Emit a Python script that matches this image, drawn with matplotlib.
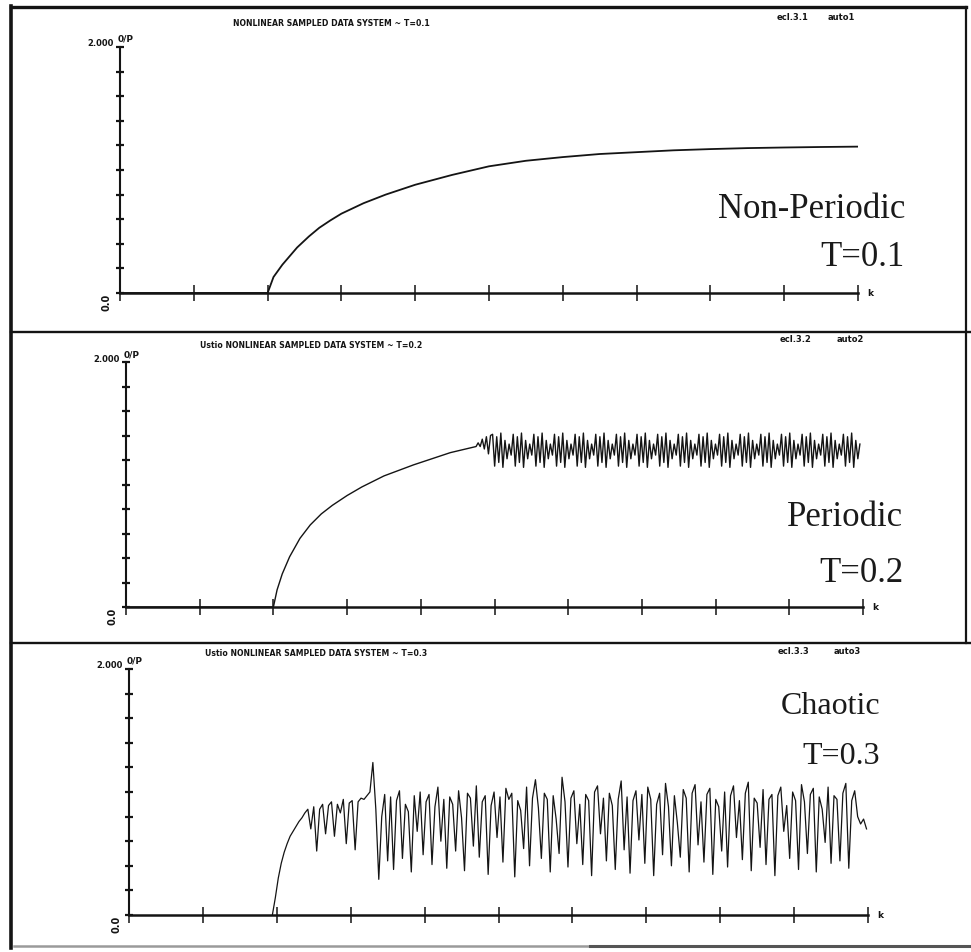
import matplotlib
matplotlib.use("Agg")
import matplotlib.pyplot as plt
import numpy as np
from matplotlib import font_manager

W, H = 971, 952

# =========================
# Response data: output O/P against sample index k
# =========================

K_TICKS = [0, 10, 20, 30, 40, 50, 60, 70, 80, 90, 100]
Y_TICKS = [0.0, 0.2, 0.4, 0.6, 0.8, 1.0, 1.2, 1.4, 1.6, 1.8, 2.0]

# T = 0.1 : smooth approach to steady state
T1_K = [0, 20, 20.8, 22, 23, 24, 25.6, 27, 28.5, 30, 33, 36, 40, 45, 50,
        55, 60, 65, 70, 75, 80, 85, 90, 95, 100]
T1_Y = [0, 0, 0.13, 0.23, 0.30, 0.37, 0.46, 0.53, 0.59, 0.645, 0.73, 0.80,
        0.88, 0.96, 1.03, 1.075, 1.105, 1.13, 1.145, 1.16, 1.17, 1.178,
        1.183, 1.187, 1.19]

# T = 0.2 : rise, then a sustained limit cycle
T2_RISE_K = [0, 20, 20.5, 21.2, 22.2, 23.6, 25, 26.5, 28, 30, 32, 35, 39,
             44, 47.5]
T2_RISE_Y = [0, 0, 0.14, 0.27, 0.41, 0.56, 0.67, 0.76, 0.83, 0.91, 0.98,
             1.07, 1.16, 1.26, 1.31]
T2_ONSET_Y = [1.34, 1.31, 1.37, 1.29, 1.39, 1.25, 1.40]
T2_CYCLE_Y = [1.41, 1.15, 1.39, 1.18, 1.42, 1.14, 1.36, 1.21, 1.33, 1.24]
T2_STEP = 0.28
T2_END = 99.7

# T = 0.3 : chaotic response, one sample every 0.4 in k from k = 19.4
T3_START = 19.4
T3_STEP = 0.4
T3_Y = [
    0.00, 0.14, 0.30, 0.42, 0.51, 0.58, 0.64, 0.68, 0.72, 0.76,
    0.79, 0.83, 0.86, 0.70, 0.88, 0.52, 0.86, 0.90, 0.66, 0.89,
    0.92, 0.64, 0.90, 0.83, 0.94, 0.58, 0.91, 0.93, 0.53, 0.92,
    0.95, 0.94, 0.97, 1.00, 1.24, 0.86, 0.29, 0.80, 0.98, 0.44,
    0.96, 0.37, 0.93, 1.01, 0.46, 0.90, 0.84, 0.35, 0.97, 0.68,
    1.00, 0.49, 0.92, 0.98, 0.41, 0.88, 1.04, 0.60, 0.94, 0.38,
    0.96, 0.90, 0.52, 1.01, 0.79, 0.36, 0.99, 0.95, 0.56, 1.05,
    0.47, 0.92, 0.97, 0.33, 0.89, 1.00, 0.63, 0.96, 0.43, 1.03,
    0.94, 0.99, 0.31, 0.93, 0.85, 0.54, 1.04, 0.40, 0.95, 1.10,
    0.87, 0.46, 0.99, 0.94, 0.35, 0.97, 0.78, 0.50, 1.12, 0.92,
    0.39, 0.95, 1.01, 0.58, 0.90, 0.41, 0.98, 0.93, 0.32, 1.00,
    1.05, 0.66, 0.95, 0.44, 0.99, 0.89, 0.37, 0.94, 1.09, 0.53,
    0.96, 0.34, 0.93, 1.01, 0.61, 0.98, 0.42, 1.04, 0.94, 0.32,
    0.90, 0.99, 0.49, 1.07, 0.88, 0.40, 0.97, 0.75, 0.47, 1.02,
    0.95, 0.35, 0.99, 1.06, 0.57, 0.92, 0.43, 0.98, 1.03, 0.33,
    0.94, 0.88, 0.52, 1.00, 0.39, 0.97, 1.05, 0.63, 0.93, 0.45,
    0.99, 1.08, 0.36, 0.95, 0.91, 0.55, 1.02, 0.41, 0.94, 0.98,
    0.32, 0.97, 1.04, 0.68, 0.89, 0.46, 1.00, 0.93, 0.37, 1.06,
    0.92, 0.50, 0.98, 1.03, 0.35, 0.96, 0.86, 0.59, 1.04, 0.42,
    0.97, 0.94, 0.44, 0.99, 1.07, 0.38, 0.93, 1.01, 0.80, 0.74,
    0.78, 0.70,
]

TITLES = [
    "NONLINEAR SAMPLED DATA SYSTEM ~ T=0.1",
    "Ustio NONLINEAR SAMPLED DATA SYSTEM ~ T=0.2",
    "Ustio NONLINEAR SAMPLED DATA SYSTEM ~ T=0.3",
]
FILE_TAGS = [("ecl.3.1", "auto1"), ("ecl.3.2", "auto2"), ("ecl.3.3", "auto3")]
REGIMES = [("Non-Periodic", "T=0.1"), ("Periodic", "T=0.2"), ("Chaotic", "T=0.3")]

# =========================
# Layout (pixels)
# =========================

# (x at k=0, x at k=100, y at O/P=0, y at O/P=2)
PANEL_BOX = [(120, 858, 293, 47), (126, 863, 607, 362), (129, 868, 915, 669)]
TITLE_POS = [(233, 23), (200, 345), (205, 653)]
TAG_POS = [(777, 828, 17), (780, 837, 340), (778, 834, 652)]
# (right edge, first line y, second line y, font size)
REGIME_POS = [(905, 210, 258, 25), (903, 517, 573, 25), (880, 707, 757, 23)]

INK = "#141414"


def pick_font(candidates):
    names = {f.name for f in font_manager.fontManager.ttflist}
    for name in candidates:
        if name in names:
            return name
    return "DejaVu Sans"


PLOT_FONT = pick_font(["Liberation Sans Narrow", "DejaVu Sans"])
SERIF_FONT = pick_font(["Liberation Serif", "DejaVu Serif"])


def add_panel(fig, box):
    x0, x1, y0, y2 = box
    ax = fig.add_axes([x0 / W, 1 - y0 / H, (x1 - x0) / W, (y0 - y2) / H])
    ax.set_facecolor("none")
    ax.set_xlim(0, 100)
    ax.set_ylim(0, 2)
    for side in ("top", "right"):
        ax.spines[side].set_visible(False)
    ax.spines["left"].set_linewidth(1.5)
    ax.spines["bottom"].set_linewidth(1.8)
    ax.spines["left"].set_color(INK)
    ax.spines["bottom"].set_color(INK)
    ax.set_xticks(K_TICKS)
    ax.set_yticks(Y_TICKS)
    ax.tick_params(axis="x", direction="inout", length=11, width=1.1,
                   color=INK, labelbottom=False)
    ax.tick_params(axis="y", direction="inout", length=6, width=1.6,
                   color=INK, labelleft=False)
    return ax


fig = plt.figure(figsize=(W / 100, H / 100), dpi=100)
fig.patch.set_facecolor("white")

# page frame and panel dividers
frame = fig.add_axes([0, 0, 1, 1])
frame.set_xlim(0, W)
frame.set_ylim(H, 0)
frame.axis("off")
frame.plot([11, 11], [6, 948], color=INK, lw=2.6)
frame.plot([11, 966], [7, 7], color=INK, lw=2.4)
frame.plot([966, 966], [7, 643], color=INK, lw=1.6)
frame.plot([11, 971], [332, 332], color=INK, lw=1.7)
frame.plot([11, 971], [643, 643], color=INK, lw=1.7)
frame.plot([14, 590], [946, 946], color="#9a9a9a", lw=1.8)
frame.plot([590, 971], [946, 946], color="#555555", lw=2.2)

axes = [add_panel(fig, box) for box in PANEL_BOX]

# T = 0.1
axes[0].plot(T1_K, T1_Y, color=INK, lw=1.3)

# T = 0.2
onset_k = T2_RISE_K[-1] + T2_STEP * np.arange(1, len(T2_ONSET_Y) + 1)
cycle_k = np.arange(onset_k[-1] + T2_STEP, T2_END, T2_STEP)
cycle_y = np.resize(T2_CYCLE_Y, len(cycle_k))
k2 = np.concatenate([T2_RISE_K, onset_k, cycle_k])
y2 = np.concatenate([T2_RISE_Y, T2_ONSET_Y, cycle_y])
axes[1].plot(k2, y2, color=INK, lw=1.0)

# T = 0.3
k3 = T3_START + T3_STEP * np.arange(len(T3_Y))
axes[2].plot(k3, T3_Y, color=INK, lw=0.9)

for i, ax in enumerate(axes):
    x0, x1, y0, y2_px = PANEL_BOX[i]
    frame.text(x0 - 6, y2_px - 3, "2.000", ha="right", va="center",
               fontsize=6, fontweight="bold", family=PLOT_FONT, color=INK)
    frame.text(x0 - 2, y2_px - 3, "0/P", ha="left", va="bottom",
               fontsize=6.5, fontweight="bold", family=PLOT_FONT, color=INK)
    frame.text(x0 - 13, y0 + 9, "0.0", ha="center", va="center",
               rotation=90, fontsize=7, fontweight="bold",
               family=PLOT_FONT, color=INK)
    frame.text(x1 + 9, y0 + 1, "k", ha="left", va="center",
               fontsize=6.5, fontweight="bold", family=PLOT_FONT, color=INK)

    tx, ty = TITLE_POS[i]
    frame.text(tx, ty, TITLES[i], ha="left", va="center", fontsize=5.6,
               fontweight="bold", family=PLOT_FONT, color=INK)
    ex, ax_, ey = TAG_POS[i]
    frame.text(ex, ey, FILE_TAGS[i][0], ha="left", va="center", fontsize=6,
               fontweight="bold", family=PLOT_FONT, color=INK)
    frame.text(ax_, ey, FILE_TAGS[i][1], ha="left", va="center", fontsize=6,
               fontweight="bold", family=PLOT_FONT, color=INK)

    rx, ry1, ry2, rsize = REGIME_POS[i]
    frame.text(rx, ry1, REGIMES[i][0], ha="right", va="center",
               fontsize=rsize, family=SERIF_FONT, color="#1a1a1a")
    frame.text(rx, ry2, REGIMES[i][1], ha="right", va="center",
               fontsize=rsize, family=SERIF_FONT, color="#1a1a1a")

fig.savefig("out.png", dpi=100, facecolor="white")
